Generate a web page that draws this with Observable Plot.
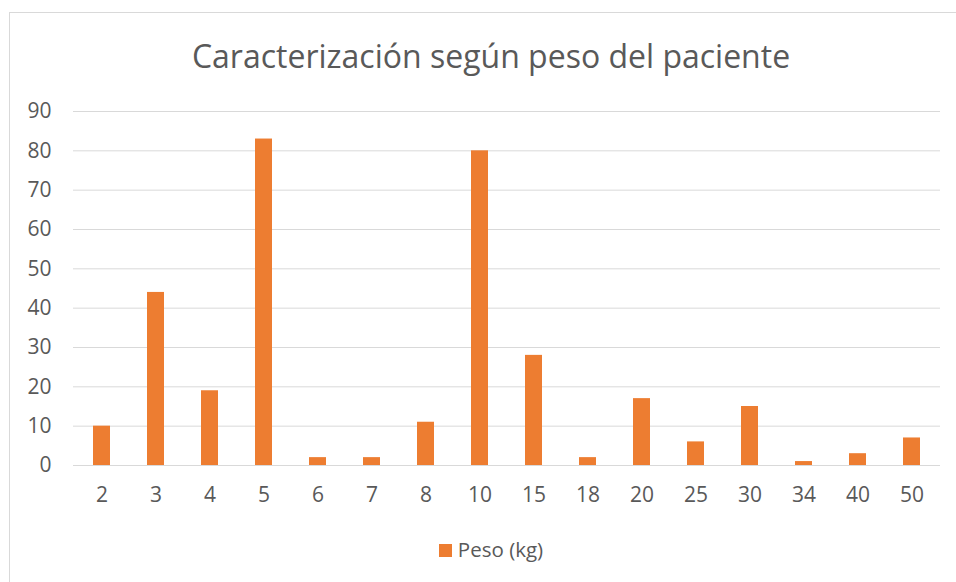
<!DOCTYPE html>
<html>
<head>
<meta charset="utf-8">
<script src="https://cdn.jsdelivr.net/npm/d3@7"></script>
<script src="https://cdn.jsdelivr.net/npm/@observablehq/plot@0.6"></script>
<style>
  html, body { margin: 0; padding: 0; background: #fff; }
  body { width: 956px; height: 582px; overflow: hidden; position: relative; font-family: "Open Sans", sans-serif; }
  #frame { position: absolute; left: 9px; top: 12px; width: 963px; height: 600px; border: 1px solid #d9d9d9; box-sizing: border-box; }
  #title { position: absolute; left: 9px; width: 964px; top: 35px; text-align: center; font-size: 32px; color: #595959; line-height: 42px; white-space: nowrap; }
  #chart { position: absolute; left: 0; top: 80px; }
  #legend { position: absolute; left: 9px; width: 964px; top: 535px; text-align: center; font-size: 20.5px; color: #595959; line-height: 28px; }
  #legend .sw { display: inline-block; width: 13px; height: 13px; background: #ED7D31; margin-right: 6px; vertical-align: 0px; }
</style>
</head>
<body>
<div id="frame"></div>
<div id="title">Caracterización según peso del paciente</div>
<div id="chart"></div>
<div id="legend"><span class="sw"></span>Peso (kg)</div>
<script>
const categories = ["2","3","4","5","6","7","8","10","15","18","20","25","30","34","40","50"];
const values = [10,44,19,83,2,2,11,80,28,2,17,6,15,1,3,7];
const yTicks = [0,10,20,30,40,50,60,70,80,90];
const seriesName = "Peso (kg)";

const data = categories.map((c, i) => ({peso: c, n: values[i]}));

const plot = Plot.plot({
  width: 956,
  height: 440,
  marginTop: 31,
  marginBottom: 55,
  marginLeft: 73,
  marginRight: 16,
  style: {fontFamily: "'Open Sans', sans-serif", fontSize: "21px", color: "#595959", background: "transparent"},
  x: {domain: categories, paddingInner: 0.68, paddingOuter: 0.34, label: null},
  y: {domain: [0, 90], label: null},
  marks: [
    Plot.gridY(yTicks, {stroke: "#d9d9d9", strokeOpacity: 1, strokeWidth: 1}),
    Plot.barY(data, {x: "peso", y: "n", fill: "#ED7D31", title: d => `${seriesName}: ${d.n}`}),
    Plot.axisX({tickSize: 0, tickPadding: 22, fill: "#595959", fontSize: 21}),
    Plot.axisY(yTicks, {tickSize: 0, tickPadding: 22, fill: "#595959", fontSize: 21})
  ]
});
document.getElementById("chart").appendChild(plot);
</script>
</body>
</html>
